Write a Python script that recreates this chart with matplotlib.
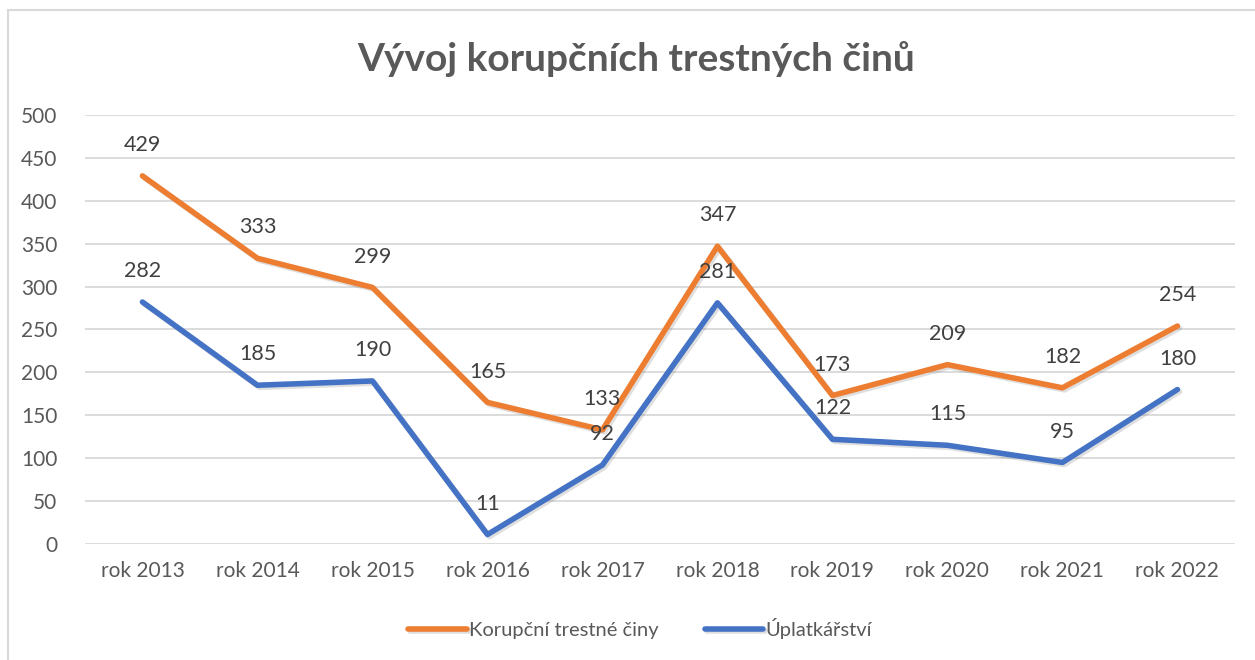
import matplotlib.pyplot as plt
import matplotlib.patheffects as pe
from matplotlib.patches import Rectangle

# data
roky = ["rok 2013", "rok 2014", "rok 2015", "rok 2016", "rok 2017",
        "rok 2018", "rok 2019", "rok 2020", "rok 2021", "rok 2022"]
korupcni = [429, 333, 299, 165, 133, 347, 173, 209, 182, 254]
uplatkarstvi = [282, 185, 190, 11, 92, 281, 122, 115, 95, 180]

plt.rcParams['font.family'] = ['Lato', 'DejaVu Sans']
text_col = '#404040'

fig = plt.figure(figsize=(12.55, 6.6), dpi=100)
ax = fig.add_axes([0.0677, 0.1758, 0.9163, 0.65])

# ramecek grafu
fig.patches.append(Rectangle((8 / 1255, -0.01), 1.02, 1 - 10 / 660 + 0.01,
                             transform=fig.transFigure, fill=False,
                             edgecolor='#D9D9D9', linewidth=1.5))

x = list(range(len(roky)))
shadow = [pe.SimpleLineShadow(offset=(1.5, -1.5), alpha=0.25, shadow_color='gray'),
          pe.Normal()]
ax.plot(x, korupcni, color='#ED7D31', lw=4, solid_capstyle='round',
        label='Korupční trestné činy', path_effects=shadow, zorder=3)
ax.plot(x, uplatkarstvi, color='#4472C4', lw=4, solid_capstyle='round',
        label='Úplatkářství', path_effects=shadow, zorder=3)

for i in x:
    ax.annotate(str(korupcni[i]), (i, korupcni[i]), xytext=(0, 15),
                textcoords='offset points', ha='center', va='bottom',
                fontsize=15.5, color=text_col, zorder=4)
    ax.annotate(str(uplatkarstvi[i]), (i, uplatkarstvi[i]), xytext=(0, 15),
                textcoords='offset points', ha='center', va='bottom',
                fontsize=15.5, color=text_col, zorder=4)

ax.set_xlim(-0.5, len(roky) - 0.5)
ax.set_ylim(0, 500)
ax.set_yticks(range(0, 501, 50))
ax.set_xticks(x)
ax.set_xticklabels(roky)
ax.tick_params(length=0, labelsize=15, labelcolor='#595959', pad=12)
ax.tick_params(axis='y', pad=20)
ax.grid(axis='y', color='#D9D9D9', lw=1.3)
ax.set_axisbelow(True)
for s in ax.spines.values():
    s.set_visible(False)

fig.text(0.507, 0.91, 'Vývoj korupčních trestných činů', ha='center', va='center',
         fontsize=28, fontweight='bold', color='#595959')

fig.legend(loc='center', bbox_to_anchor=(0.51, 0.048), ncol=2, frameon=False,
           fontsize=14.5, handlelength=2.9, handletextpad=0.1, columnspacing=2.3,
           labelcolor='#595959')

fig.savefig('out.png', dpi=100)
